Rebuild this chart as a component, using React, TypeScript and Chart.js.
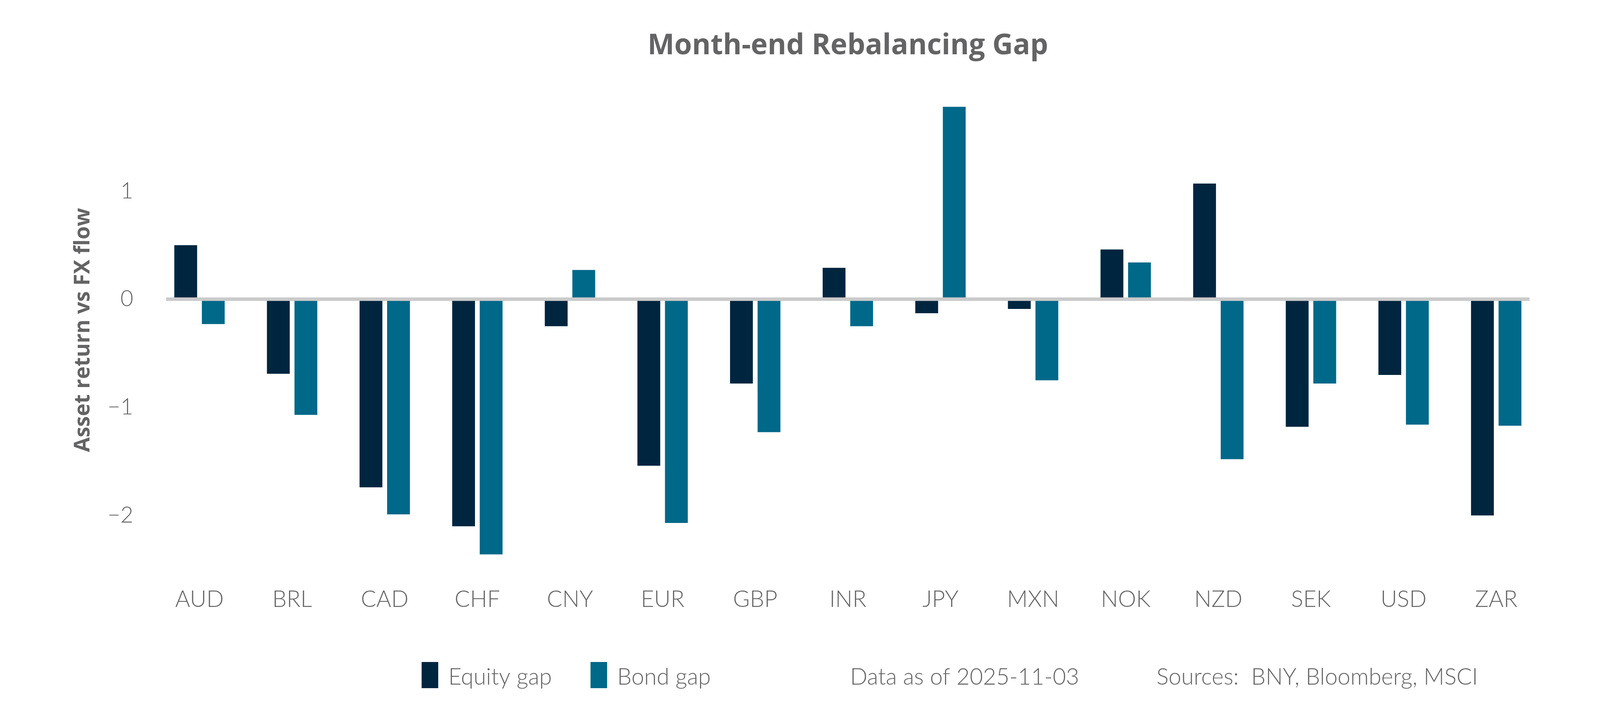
import React, { useEffect, useRef } from "react";
import { Chart, registerables } from "chart.js";

Chart.register(...registerables);

const currencies = ["AUD", "BRL", "CAD", "CHF", "CNY", "EUR", "GBP", "INR", "JPY", "MXN", "NOK", "NZD", "SEK", "USD", "ZAR"];
const equityGap = [0.5, -0.69, -1.74, -2.1, -0.25, -1.54, -0.78, 0.29, -0.13, -0.09, 0.46, 1.07, -1.18, -0.7, -2.0];
const bondGap = [-0.23, -1.07, -1.99, -2.36, 0.27, -2.07, -1.23, -0.25, 1.78, -0.75, 0.34, -1.48, -0.78, -1.16, -1.17];
const yTicks = [-2, -1, 0, 1];
const seriesNames = ["Equity gap", "Bond gap"];
const notes = ["Data as of 2025-11-03", "Sources:  BNY, Bloomberg, MSCI"];

const EQUITY = "#00253f";
const BOND = "#006889";
const GREY = "#646466";
const FONT = "Lato, 'Noto Sans', sans-serif";
const BOLD_FONT = "'Open Sans', Lato, sans-serif";

// layout is designed on a 5400 x 1800 grid and scaled to the real viewport
const BASE_W = 5400;
const BASE_H = 1800;

// zero line that stops short of the outer category edges, drawn over the bars
const zeroLine = {
  id: "zeroLine",
  afterDatasetsDraw(chart) {
    const { ctx, scales, height } = chart;
    const ky = height / BASE_H;
    const x = scales.x;
    const y = scales.y;
    const step = x.getPixelForValue(1) - x.getPixelForValue(0);
    const x0 = x.getPixelForValue(0) - step * 0.36;
    const x1 = x.getPixelForValue(currencies.length - 1) + step * 0.36;
    const y0 = y.getPixelForValue(0);
    ctx.save();
    ctx.strokeStyle = "#cacaca";
    ctx.lineWidth = 9 * ky;
    ctx.beginPath();
    ctx.moveTo(x0, y0);
    ctx.lineTo(x1, y0);
    ctx.stroke();
    ctx.restore();
  },
};

// bottom legend with source notes
const footer = {
  id: "footer",
  afterDraw(chart) {
    const { ctx, width, height } = chart;
    const kx = width / BASE_W;
    const ky = height / BASE_H;
    const baseline = 1753 * ky;
    ctx.save();
    ctx.font = `300 ${77 * kx}px ${FONT}`;
    ctx.textBaseline = "alphabetic";
    ctx.textAlign = "left";
    const items = [
      { box: 1423, text: 1513, color: EQUITY, label: seriesNames[0] },
      { box: 1993, text: 2083, color: BOND, label: seriesNames[1] },
    ];
    items.forEach((it) => {
      ctx.fillStyle = it.color;
      ctx.fillRect(it.box * kx, 1695 * ky, 56 * kx, 67 * ky);
      ctx.fillStyle = GREY;
      ctx.fillText(it.label, it.text * kx, baseline);
    });
    ctx.fillStyle = GREY;
    ctx.fillText(notes[0], 2869 * kx, baseline);
    ctx.fillText(notes[1], 3903 * kx, baseline);
    ctx.restore();
  },
};

const RebalancingChart = () => {
  const canvasRef = useRef(null);

  useEffect(() => {
    document.body.style.margin = "0";
    document.body.style.overflow = "hidden";
    const canvas = canvasRef.current;
    const w = document.documentElement.clientWidth || window.innerWidth;
    const h = window.innerHeight || Math.round(w / 3);
    canvas.style.width = w + "px";
    canvas.style.height = h + "px";
    canvas.width = w;
    canvas.height = h;
    const kx = w / BASE_W;
    const ky = h / BASE_H;
    const ctx = canvas.getContext("2d");

    const plotTop = 254 * ky;
    const plotBottom = 1436 * ky;
    const xAxisH = 180 * ky;
    const titleSize = 96 * kx;
    const titlePadTop = 118 * ky - 0.6 * titleSize;
    const titlePadBottom = plotTop - titlePadTop - 1.2 * titleSize;
    const xTickSize = 77 * kx;
    const xTickPad = 1535 * ky - plotBottom - 0.6 * xTickSize;

    const chart = new Chart(ctx, {
      type: "bar",
      data: {
        labels: currencies,
        datasets: [
          { label: seriesNames[0], data: equityGap, backgroundColor: EQUITY },
          { label: seriesNames[1], data: bondGap, backgroundColor: BOND },
        ],
      },
      options: {
        responsive: false,
        animation: false,
        datasets: {
          bar: { categoryPercentage: 0.595, barPercentage: 0.828 },
        },
        layout: {
          padding: { left: 0, right: 194 * kx, top: 0, bottom: h - plotBottom - xAxisH },
        },
        plugins: {
          legend: { display: false },
          tooltip: { enabled: false },
          title: {
            display: true,
            fullSize: false,
            text: "Month-end Rebalancing Gap",
            color: GREY,
            font: { family: BOLD_FONT, size: titleSize, weight: "bold", lineHeight: 1.2 },
            padding: { top: titlePadTop, bottom: titlePadBottom },
          },
        },
        scales: {
          x: {
            grid: { display: false, drawTicks: false },
            border: { display: false },
            ticks: {
              color: GREY,
              padding: xTickPad,
              font: { family: FONT, size: xTickSize, weight: 300 },
            },
            afterFit: (scale) => {
              scale.height = xAxisH;
            },
          },
          y: {
            min: -2.42,
            max: 1.85,
            grid: { display: false, drawTicks: false },
            border: { display: false },
            afterBuildTicks: (scale) => {
              scale.ticks = yTicks.map((value) => ({ value }));
            },
            ticks: {
              color: GREY,
              padding: 67 * kx,
              font: { family: FONT, size: 75 * kx, weight: 300 },
              callback: (v) => (v < 0 ? "\u2212" + Math.abs(v) : String(v)),
            },
            title: {
              display: true,
              text: "Asset return vs FX flow",
              color: GREY,
              font: { family: BOLD_FONT, size: 72 * kx, weight: "bold", lineHeight: 1.2 },
              padding: { top: 282 * kx - 0.6 * 72 * kx, bottom: 0 },
            },
            afterFit: (scale) => {
              scale.width = 517 * kx;
            },
          },
        },
      },
      plugins: [zeroLine, footer],
    });

    return () => {
      chart.destroy();
    };
  }, []);

  return <canvas ref={canvasRef} style={{ display: "block" }} />;
};

export default function App() {
  return <RebalancingChart />;
}
